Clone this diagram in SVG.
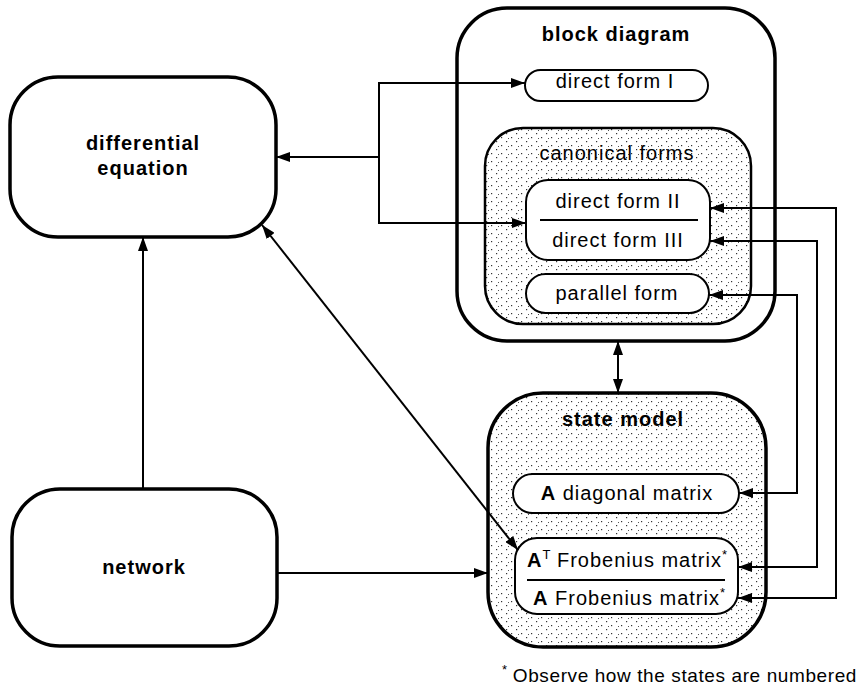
<svg xmlns="http://www.w3.org/2000/svg" width="860" height="698" viewBox="0 0 860 698">
<style>
  text { font-family: "Liberation Sans", Arial, sans-serif; font-size: 20px; letter-spacing: 1px; fill: #000; }
  .b { font-weight: bold; }
  .mid { text-anchor: middle; }
  .outer { fill: #fff; stroke: #000; stroke-width: 3.5; }
  .outerS { fill: url(#stip); stroke: #000; stroke-width: 3.5; }
  .inner { fill: #fff; stroke: #000; stroke-width: 2; }
  .div { stroke: #000; stroke-width: 2; }
  .con { fill: none; stroke: #000; stroke-width: 2; }
  .sup { font-size: 13px; letter-spacing: 0; }
</style>
<defs>
  <pattern id="stip" width="10" height="8" patternUnits="userSpaceOnUse">
    <rect width="10" height="8" fill="#fff"/>
    <rect x="1" y="1" width="1.2" height="1.2" fill="#333"/>
    <rect x="6" y="5" width="1.2" height="1.2" fill="#333"/>
    <rect x="8" y="2" width="1" height="1" fill="#555"/>
  </pattern>
  <marker id="ah" viewBox="0 0 14 10" refX="14" refY="5" markerWidth="14" markerHeight="10" markerUnits="userSpaceOnUse" orient="auto-start-reverse">
    <path d="M0,0 L14,5 L0,10 z" fill="#000"/>
  </marker>
</defs>

<g id="differential-equation">
  <rect class="outer" x="10" y="77" width="266" height="160" rx="48"/>
  <text class="b mid" x="143" y="150">differential</text>
  <text class="b mid" x="143" y="175">equation</text>
</g>

<g id="network">
  <rect class="outer" x="12" y="489" width="265" height="157" rx="48"/>
  <text class="b mid" x="144" y="574">network</text>
</g>

<g id="block-diagram">
  <rect class="outer" x="457" y="8" width="318" height="333" rx="50"/>
  <text class="b mid" x="616" y="41">block diagram</text>
</g>

<g id="direct-form-1">
  <rect class="inner" x="525" y="70" width="183" height="31" rx="15.5"/>
  <text class="mid" x="615" y="88">direct form I</text>
</g>

<g id="canonical-forms">
  <rect fill="url(#stip)" stroke="#000" stroke-width="2.5" x="485" y="128" width="266" height="196" rx="38"/>
  <text class="mid" x="617" y="160">canonical forms</text>
</g>

<g id="direct-form-2-3">
  <rect class="inner" x="526" y="180" width="184" height="80" rx="22"/>
  <line class="div" x1="540" y1="220" x2="698" y2="220"/>
  <text class="mid" x="618" y="208">direct form II</text>
  <text class="mid" x="618" y="247">direct form III</text>
</g>

<g id="parallel-form">
  <rect class="inner" x="526" y="274" width="183" height="39" rx="19.5"/>
  <text class="mid" x="617" y="300">parallel form</text>
</g>

<g id="state-model">
  <rect class="outerS" x="488" y="393" width="278" height="254" rx="55"/>
  <text class="b mid" x="623" y="426">state model</text>
</g>

<g id="diagonal-matrix">
  <rect class="inner" x="513" y="474" width="226" height="39" rx="19.5"/>
  <text class="mid" x="627" y="500"><tspan class="b">A</tspan> diagonal matrix</text>
</g>

<g id="frobenius-matrix">
  <rect class="inner" x="515" y="538" width="223" height="76" rx="22"/>
  <line class="div" x1="527" y1="580" x2="725" y2="580"/>
  <text x="527" y="567"><tspan class="b">A</tspan><tspan class="sup" dy="-8">T</tspan><tspan dy="8"> Frobenius matrix</tspan><tspan class="sup" dy="-8">*</tspan></text>
  <text x="533" y="605"><tspan class="b">A</tspan> Frobenius matrix<tspan class="sup" dy="-8">*</tspan></text>
</g>

<g id="connectors">
  <path class="con" d="M379,157 L276,157" marker-end="url(#ah)"/>
  <path class="con" d="M525,83 L379,83 L379,223 L526,223" marker-start="url(#ah)" marker-end="url(#ah)"/>
  <path class="con" d="M143,489 L143,237" marker-end="url(#ah)"/>
  <path class="con" d="M277,573 L488,573" marker-end="url(#ah)"/>
  <path class="con" d="M262,225 L518,550" stroke-width="1.6" marker-start="url(#ah)" marker-end="url(#ah)"/>
  <path class="con" d="M618,341 L618,393" marker-start="url(#ah)" marker-end="url(#ah)"/>
  <path class="con" d="M710,208 L836,208 L836,598 L738,598" marker-start="url(#ah)" marker-end="url(#ah)"/>
  <path class="con" d="M710,241 L817,241 L817,567 L738,567" marker-start="url(#ah)" marker-end="url(#ah)"/>
  <path class="con" d="M709,295 L797,295 L797,493 L739,493" marker-start="url(#ah)" marker-end="url(#ah)"/>
</g>

<g id="footnote">
  <text x="857" y="682" style="text-anchor:end; font-size:19px; letter-spacing:0.6px"><tspan class="sup" dy="-8">*</tspan><tspan dy="8"> Observe how the states are numbered</tspan></text>
</g>
</svg>
